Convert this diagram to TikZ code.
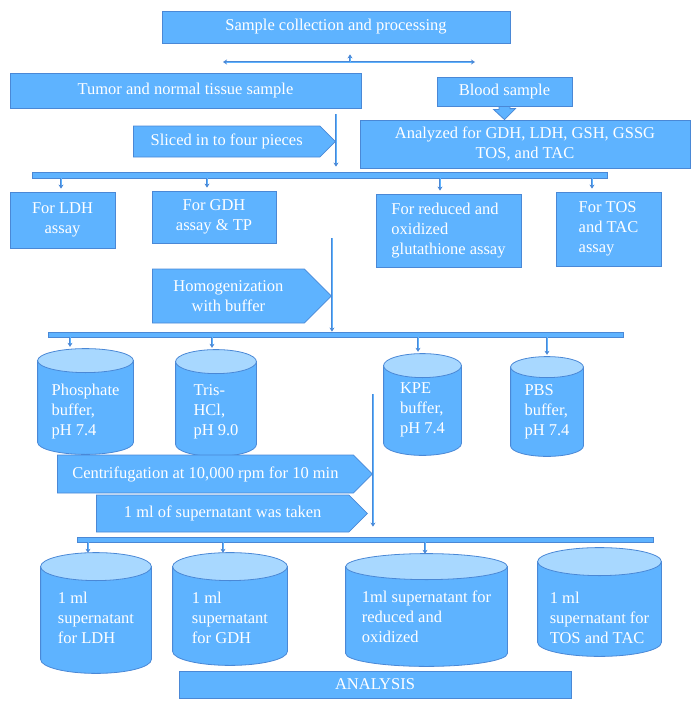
\documentclass[tikz,border=0pt]{standalone}
\usepackage{fontspec}
\setmainfont{Liberation Serif}
\usetikzlibrary{arrows.meta,calc,shapes.symbols}
\definecolor{FlowBlue}{HTML}{5EB3FF}
\definecolor{FlowEdge}{HTML}{4A88D6}
\definecolor{FlowTop}{HTML}{A8D8FF}
\tikzset{
  box/.style={draw=FlowEdge, fill=FlowBlue, text=white, line width=0.8pt,
              inner sep=0pt, align=center},
  pointer/.style={box, signal, signal to=east, signal pointer angle=90, anchor=west},
  tank/.style={inner sep=0pt,
    path picture={
      \draw[draw=FlowEdge, line width=0.8pt, fill=FlowBlue]
        let \p1=(path picture bounding box.south west),
            \p2=(path picture bounding box.north east),
            \n1={(\x2-\x1)/2-0.6pt}, \n2={#1*1pt} in
        ({\x1+0.6pt},{\y2-\n2-0.6pt}) -- ({\x1+0.6pt},{\y1+\n2+0.6pt})
        arc[start angle=180, end angle=360, x radius=\n1, y radius=\n2]
        -- ({\x2-0.6pt},{\y2-\n2-0.6pt}) -- cycle;
      \draw[draw=FlowEdge, line width=0.8pt, fill=FlowTop]
        let \p1=(path picture bounding box.south west),
            \p2=(path picture bounding box.north east),
            \n1={(\x2-\x1)/2-0.6pt}, \n2={#1*1pt} in
        ({(\x1+\x2)/2},{\y2-\n2-0.6pt}) ellipse[x radius=\n1, y radius=\n2];
    }},
  tank/.default=12,
  tanktext/.style={text=white, align=left, inner sep=0pt},
  rail/.style={box, minimum height=5pt},
  drop/.style={-{Stealth[length=4pt,width=5pt]}, draw=FlowEdge, line width=0.6pt,
               double=FlowBlue, double distance=0.9pt},
  feed/.style={draw=FlowEdge, fill=FlowBlue, line width=0.8pt},
}
\begin{document}
\begin{tikzpicture}[x=1pt,y=-1pt,font=\fontsize{16.5}{20}\selectfont]
  \useasboundingbox (0,0) rectangle (700,709);
  % sampling
  \node[box,minimum width=348,minimum height=32] (collect) at (336,27) {Sample collection and processing};
  \coordinate (splitL) at (223,62);
  \coordinate (splitR) at (475,62);
  \coordinate (split) at (350,62);
  \node[box,minimum width=351,minimum height=35] (tissue) at (185.5,90.5) {Tumor and normal tissue sample};
  \node[box,minimum width=135,minimum height=29] (blood) at (504.5,91.5) {Blood sample};
  \node[box,minimum width=330,minimum height=48] (analyzed) at (525,144) {Analyzed for GDH, LDH, GSH, GSSG\\TOS, and TAC};
  \node[pointer,minimum width=202,minimum height=31] (sliced) at (133,141.5) {Sliced in to four pieces};
  \node[rail,minimum width=575,minimum height=6] (bar1) at (319.5,175) {};
  \draw[drop,{Stealth[length=4pt,width=5pt]}-{Stealth[length=4pt,width=5pt]}] (splitL) -- (splitR);
  \draw[drop,shorten >=11pt] (split) -- (split |- collect.south);
  \draw[feed] ($(blood.south)+(-5.5,0)$) -- ++(0,3) -- ++(-5.5,0) -- (blood.south |- analyzed.north)
    -- ++(11,-11) -- ++(-5.5,0) -- ($(blood.south)+(5.5,0)$) -- cycle;
  \draw[drop,shorten <=6pt,shorten >=5pt] (sliced.east |- tissue.south) -- (sliced.east |- bar1.north);

  % tissue portions
  \node[box,minimum width=105,minimum height=56] (ldh) at (62.5,220) {For LDH\\assay};
  \node[box,minimum width=124,minimum height=52] (gdh) at (214,217) {For GDH\\assay \& TP};
  \node[box,minimum width=145,minimum height=73,align=left] (gsh) at (448.5,230.5) {For reduced and\\oxidized\\glutathione assay};
  \node[box,minimum width=105,minimum height=74,align=left] (tos) at (608.5,229) {For TOS\\and TAC\\assay};
  \foreach \part/\dx in {ldh/-1.5,gdh/-7,gsh/-8.5,tos/-16.5}
    \draw[drop,shorten >=3pt] ([xshift=\dx pt]bar1.south -| \part.north) -- ([xshift=\dx pt]\part.north);
  \node[pointer,minimum width=179,minimum height=54] (homog) at (152,296) {Homogenization\\with buffer};
  \node[rail,minimum width=575] (bar2) at (335.5,334.5) {};
  \draw[drop] ([yshift=58pt]homog.east) -- (homog.east |- bar2.north);

  % buffers
  \node[tank,minimum width=97,minimum height=107] (phos) at (85.5,401.5) {};
  \node[tank,minimum width=82,minimum height=108] (tris) at (216,403) {};
  \node[tank,minimum width=79,minimum height=103] (kpe) at (422.5,404.5) {};
  \node[tank=10.5,minimum width=74,minimum height=101] (pbs) at (547,406.5) {};
  \node[tanktext] (phosText) at ($(phos)+(0,10.5)$) {Phosphate\\buffer,\\pH 7.4};
  \node[tanktext] (trisText) at ($(tris)+(0,9)$) {Tris-\\HCl,\\pH 9.0};
  \node[tanktext] (kpeText) at ($(kpe)+(0,5.5)$) {KPE\\buffer,\\pH 7.4};
  \node[tanktext] (pbsText) at ($(pbs)+(0,5.5)$) {PBS\\buffer,\\pH 7.4};
  \foreach \buf/\dx in {phos/-15.5,tris/-4,kpe/-4.5,pbs/0}
    \draw[drop,shorten >=1pt] ([xshift=\dx pt]bar2.south -| \buf.north) -- ([xshift=\dx pt]\buf.north);
  \node[pointer,minimum width=315,minimum height=38] (spin) at (57,474) {Centrifugation at 10,000 rpm for 10 min};
  \node[pointer,minimum width=271,minimum height=37] (taken) at (96,513.5) {1 ml of supernatant was taken};
  \node[rail,minimum width=576] (bar3) at (365,539.5) {};
  \draw[drop,shorten >=10pt] ([yshift=80pt]spin.east) -- (spin.east |- bar3.north);

  % supernatants
  \node[tank=14,minimum width=112,minimum height=122] (supA) at (96,613) {};
  \node[tank=14,minimum width=116,minimum height=114] (supB) at (230,609) {};
  \node[tank=13,minimum width=163,minimum height=114] (supC) at (426.5,610) {};
  \node[tank=14,minimum width=125,minimum height=110] (supD) at (599.5,602) {};
  \node[tanktext] (supAText) at ($(supA)+(0,5)$) {1 ml\\supernatant\\for LDH};
  \node[tanktext] (supBText) at ($(supB)+(0,9)$) {1 ml\\supernatant\\for GDH};
  \node[tanktext] (supCText) at ($(supC)+(0,7)$) {1ml supernatant for\\reduced and\\oxidized};
  \node[tanktext] (supDText) at ($(supD)+(0,16)$) {1 ml\\supernatant for\\TOS and TAC};
  \foreach \sup/\dx in {supA/-8,supB/-7,supC/-1.5}
    \draw[drop,shorten >=-1pt] ([xshift=\dx pt]bar3.south -| \sup.north) -- ([xshift=\dx pt]\sup.north);
  \node[box,minimum width=392,minimum height=27] (analysis) at (375,684.5) {ANALYSIS};
\end{tikzpicture}
\end{document}
